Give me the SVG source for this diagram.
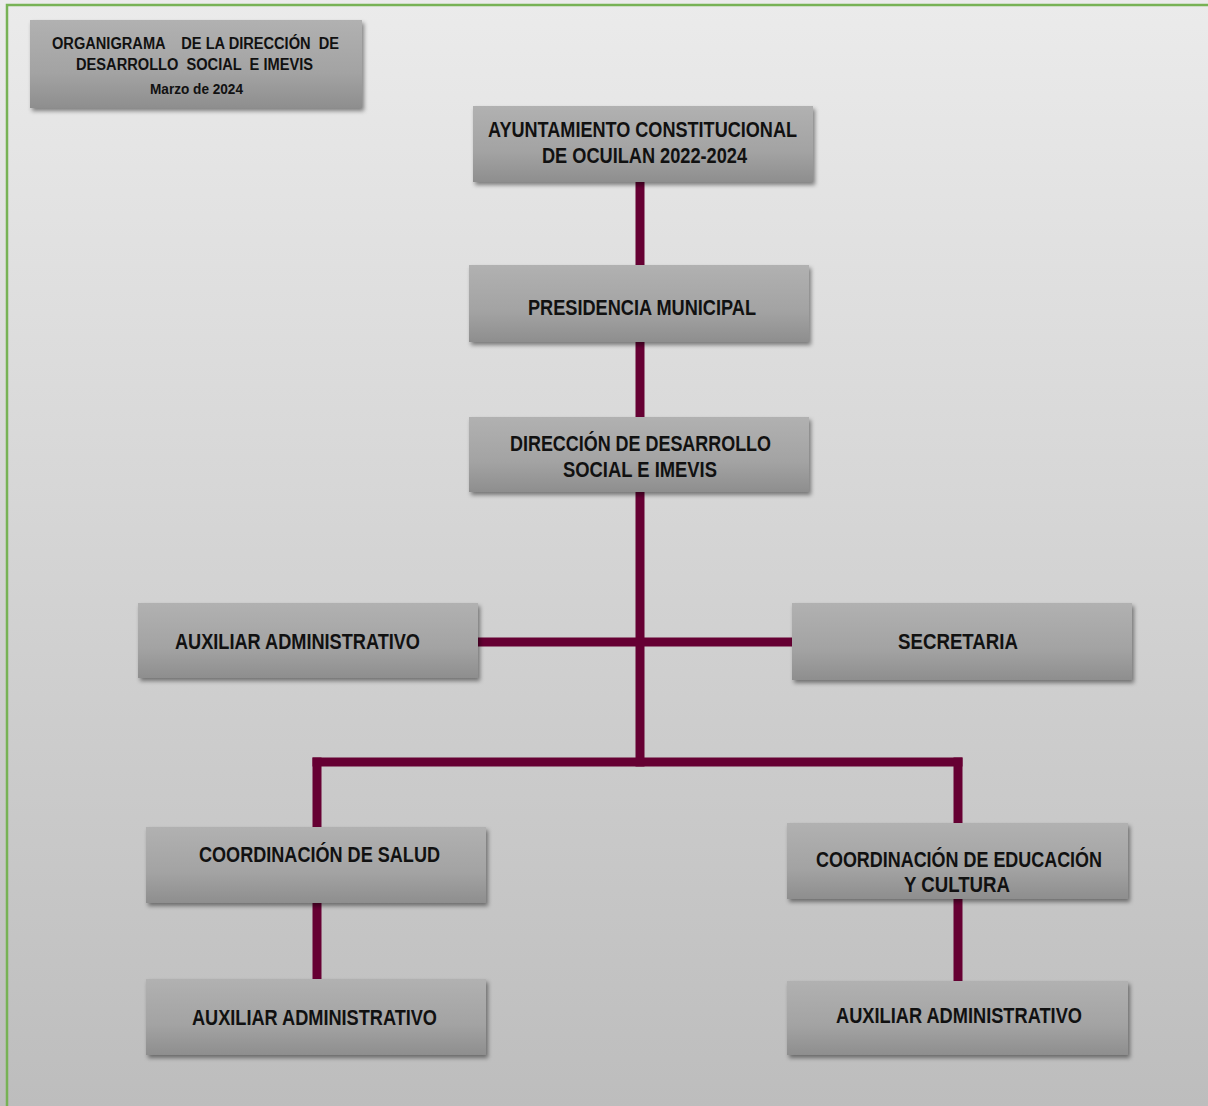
<svg xmlns="http://www.w3.org/2000/svg" width="1208" height="1106" viewBox="0 0 1208 1106">
<defs>
<linearGradient id="bg" x1="0" y1="0" x2="0" y2="1">
<stop offset="0" stop-color="#ebebeb"/>
<stop offset="1" stop-color="#bdbdbd"/>
</linearGradient>
<linearGradient id="box" x1="0" y1="0" x2="0" y2="1">
<stop offset="0" stop-color="#b1b1b1"/>
<stop offset="0.6" stop-color="#a3a3a3"/>
<stop offset="1" stop-color="#8e8e8e"/>
</linearGradient>
<filter id="sh" x="-10%" y="-20%" width="125%" height="150%">
<feDropShadow dx="2" dy="3" stdDeviation="2" flood-color="#000" flood-opacity="0.45"/>
</filter>
</defs>
<style>
.node rect{fill:url(#box);filter:url(#sh);}
.lbl{font-family:"Liberation Sans Narrow","Liberation Sans",Arial,sans-serif;font-weight:bold;font-size:22px;fill:#111;text-anchor:start;}
.ttl{font-family:"Liberation Sans Narrow","Liberation Sans",Arial,sans-serif;font-weight:bold;font-size:16px;fill:#111;}
.conn line{stroke:#660033;stroke-width:9;stroke-linecap:square;}
</style>
<rect x="0" y="0" width="1208" height="1106" fill="url(#bg)"/>
<rect x="7" y="5" width="1215" height="1120" fill="none" stroke="#77b255" stroke-width="2.5"/>

<g class="conn" id="connectors">
<line x1="640" y1="186" x2="640" y2="262"/>
<line x1="640" y1="346" x2="640" y2="414"/>
<line x1="640" y1="496" x2="640" y2="762"/>
<line x1="482" y1="642" x2="790" y2="642"/>
<line x1="317" y1="762" x2="958" y2="762"/>
<line x1="317" y1="762" x2="317" y2="824"/>
<line x1="958" y1="762" x2="958" y2="820"/>
<line x1="317" y1="906" x2="317" y2="976"/>
<line x1="958" y1="902" x2="958" y2="978"/>
</g>

<g class="node" id="title">
<rect x="30" y="20" width="332" height="88"/>
<text class="ttl" x="52" y="49" textLength="287" lengthAdjust="spacingAndGlyphs" xml:space="preserve">ORGANIGRAMA    DE LA DIRECCIÓN  DE</text>
<text class="ttl" x="76" y="70" textLength="237" lengthAdjust="spacingAndGlyphs" xml:space="preserve">DESARROLLO  SOCIAL  E IMEVIS</text>
<text class="ttl" x="150" y="94" style="font-size:14px" textLength="93" lengthAdjust="spacingAndGlyphs">Marzo de 2024</text>
</g>

<g class="node" id="ayuntamiento">
<rect x="473" y="106" width="340" height="76"/>
<text class="lbl" x="488" y="137" textLength="309" lengthAdjust="spacingAndGlyphs">AYUNTAMIENTO CONSTITUCIONAL</text>
<text class="lbl" x="542" y="163" textLength="205" lengthAdjust="spacingAndGlyphs">DE OCUILAN 2022-2024</text>
</g>

<g class="node" id="presidencia">
<rect x="469" y="265" width="340" height="77"/>
<text class="lbl" x="528" y="315" textLength="228" lengthAdjust="spacingAndGlyphs">PRESIDENCIA MUNICIPAL</text>
</g>

<g class="node" id="direccion">
<rect x="469" y="417" width="340" height="75"/>
<text class="lbl" x="510" y="451" textLength="261" lengthAdjust="spacingAndGlyphs">DIRECCIÓN DE DESARROLLO</text>
<text class="lbl" x="563" y="477" textLength="154" lengthAdjust="spacingAndGlyphs">SOCIAL E IMEVIS</text>
</g>

<g class="node" id="auxiliar-direccion">
<rect x="138" y="603" width="340" height="75"/>
<text class="lbl" x="175" y="649" textLength="245" lengthAdjust="spacingAndGlyphs">AUXILIAR ADMINISTRATIVO</text>
</g>

<g class="node" id="secretaria">
<rect x="792" y="603" width="340" height="77"/>
<text class="lbl" x="898" y="649" textLength="120" lengthAdjust="spacingAndGlyphs">SECRETARIA</text>
</g>

<g class="node" id="coord-salud">
<rect x="146" y="827" width="340" height="76"/>
<text class="lbl" x="199" y="862" textLength="241" lengthAdjust="spacingAndGlyphs">COORDINACIÓN DE SALUD</text>
</g>

<g class="node" id="auxiliar-salud">
<rect x="146" y="979" width="340" height="76"/>
<text class="lbl" x="192" y="1025" textLength="245" lengthAdjust="spacingAndGlyphs">AUXILIAR ADMINISTRATIVO</text>
</g>

<g class="node" id="coord-educacion">
<rect x="787" y="823" width="341" height="76"/>
<text class="lbl" x="816" y="867" textLength="286" lengthAdjust="spacingAndGlyphs">COORDINACIÓN DE EDUCACIÓN</text>
<text class="lbl" x="904" y="892" textLength="106" lengthAdjust="spacingAndGlyphs">Y CULTURA</text>
</g>

<g class="node" id="auxiliar-educacion">
<rect x="787" y="981" width="341" height="74"/>
<text class="lbl" x="836" y="1023" textLength="246" lengthAdjust="spacingAndGlyphs">AUXILIAR ADMINISTRATIVO</text>
</g>
</svg>
